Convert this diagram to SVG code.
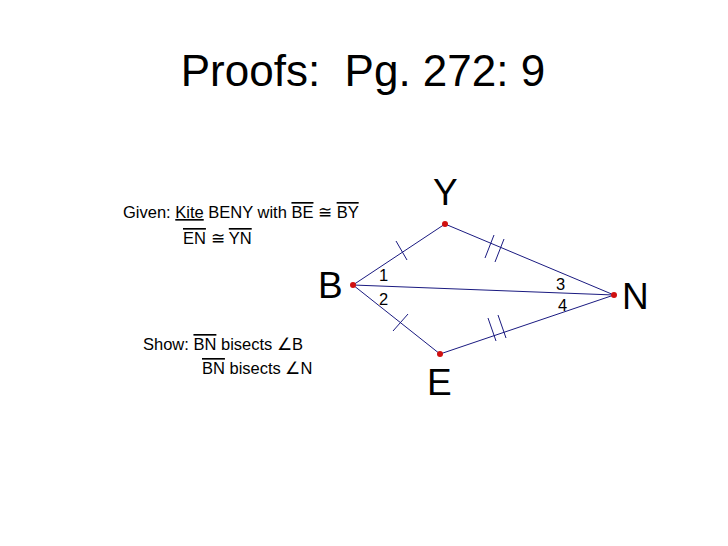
<svg xmlns="http://www.w3.org/2000/svg" width="728" height="546" viewBox="0 0 728 546">
<style>
text{font-family:"Liberation Sans",Arial,sans-serif;fill:#000}
.s{font-size:16.5px}
.big{font-size:37px}
.ov{text-decoration:overline}
.un{text-decoration:underline}
.e{stroke:#1a1a80;stroke-width:1;fill:none}
.t{stroke:#1a1a80;stroke-width:1}
.p{fill:#d01010}
</style>
<rect width="728" height="546" fill="#fff"/>
<text x="363" y="86" font-size="44" text-anchor="middle" xml:space="preserve">Proofs:  Pg. 272: 9</text>
<g id="given">
<text class="s" x="123" y="218">Given: <tspan class="un">Kite</tspan> BENY with <tspan class="ov">BE</tspan> ≅ <tspan class="ov">BY</tspan></text>
<text class="s" x="183" y="244"><tspan class="ov">EN</tspan> ≅ <tspan class="ov">YN</tspan></text>
</g>
<g id="show">
<text class="s" x="143" y="350">Show: <tspan class="ov">BN</tspan> bisects ∠B</text>
<text class="s" x="202" y="374"><tspan class="ov">BN</tspan> bisects ∠N</text>
</g>
<g id="edges">
<line class="e" x1="353" y1="285" x2="445" y2="224"/>
<line class="e" x1="445" y1="224" x2="614" y2="295"/>
<line class="e" x1="353" y1="285" x2="440" y2="354"/>
<line class="e" x1="440" y1="354" x2="614" y2="295"/>
<line class="e" x1="353" y1="285" x2="614" y2="295"/>
<line class="t" x1="396" y1="241" x2="407" y2="260"/>
<line class="t" x1="393" y1="331" x2="408" y2="314"/>
<line class="t" x1="494" y1="235" x2="485" y2="258"/>
<line class="t" x1="504" y1="239" x2="495" y2="262"/>
<line class="t" x1="488" y1="318" x2="496" y2="341"/>
<line class="t" x1="498" y1="315" x2="506" y2="338"/>
</g>
<g id="nodeY"><circle class="p" cx="445" cy="224" r="3"/><text class="big" x="433" y="205">Y</text></g>
<g id="nodeB"><circle class="p" cx="353" cy="285" r="3"/><text class="big" x="318" y="298">B</text></g>
<g id="nodeN"><circle class="p" cx="614" cy="295" r="3"/><text class="big" x="622" y="309">N</text></g>
<g id="nodeE"><circle class="p" cx="440" cy="354" r="3"/><text class="big" x="427" y="395">E</text></g>
<g id="labels">
<text class="s" x="379" y="281">1</text>
<text class="s" x="379" y="305">2</text>
<text class="s" x="556" y="290">3</text>
<text class="s" x="558" y="311">4</text>
</g>
</svg>
